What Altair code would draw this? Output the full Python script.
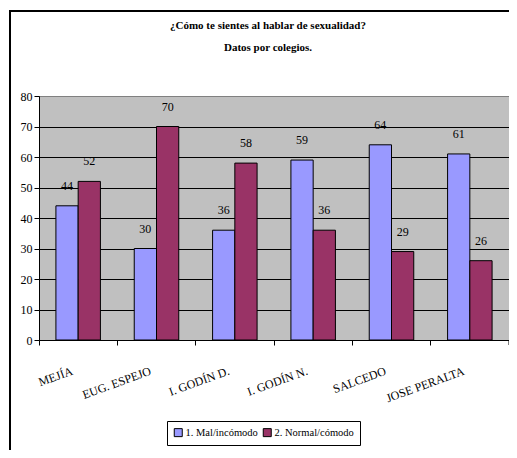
import altair as alt
import pandas as pd

categories = ["MEJÍA", "EUG. ESPEJO", "I. GODÍN D.", "I. GODÍN N.", "SALCEDO", "JOSE PERALTA"]
series_names = ["1. Mal/incómodo", "2. Normal/cómodo"]
mal = [44, 30, 36, 59, 64, 61]
normal = [52, 70, 58, 36, 29, 26]
y_ticks = [0, 10, 20, 30, 40, 50, 60, 70, 80]
colors = ["#9999FF", "#993366"]
title_lines = ["¿Cómo te sientes al hablar de sexualidad?", "Datos por colegios."]

rows = []
for c, a, b in zip(categories, mal, normal):
    rows.append({"colegio": c, "serie": series_names[0], "valor": a})
    rows.append({"colegio": c, "serie": series_names[1], "valor": b})
df = pd.DataFrame(rows)

W, H = 470, 244
FONT = "Liberation Serif"

x_enc = alt.X(
    "colegio:N", sort=categories,
    scale=alt.Scale(paddingInner=0, paddingOuter=0),
    axis=alt.Axis(title=None, bandPosition=0, labelAngle=-20, labelAlign="right",
                  labelBaseline="middle", labelOffset=-6, labelPadding=25,
                  tickSize=5, tickColor="black", domainColor="black", grid=False,
                  labelFont=FONT, labelFontSize=12, labelColor="black"),
)
xoff_enc = alt.XOffset("serie:N", sort=series_names,
                       scale=alt.Scale(paddingInner=0, paddingOuter=0.76))
y_enc = alt.Y(
    "valor:Q", scale=alt.Scale(domain=[0, 80], nice=False),
    axis=alt.Axis(title=None, values=y_ticks, tickSize=5, tickColor="black",
                  domainColor="black", grid=True,
                  gridColor={"condition": {"test": "datum.value === 80", "value": "#808080"}, "value": "black"},
                  gridWidth=1, labelFont=FONT, labelFontSize=12, labelColor="black",
                  labelPadding=2),
)

base = alt.Chart(df)

bars = base.mark_bar(stroke="black", strokeWidth=1).encode(
    x=x_enc, xOffset=xoff_enc, y=y_enc,
    color=alt.Color("serie:N", sort=series_names,
                    scale=alt.Scale(domain=series_names, range=colors),
                    legend=alt.Legend(orient="none", legendX=128, legendY=325,
                                      direction="horizontal", title=None,
                                      strokeColor="black", padding=6,
                                      symbolType="square", symbolSize=64,
                                      symbolStrokeColor="black", symbolStrokeWidth=1,
                                      labelFont=FONT, labelFontSize=10.5, labelColor="black",
                                      columnPadding=3, labelOffset=2)),
)

labels = base.mark_text(dy=-20, font=FONT, fontSize=12, color="black").encode(
    x=x_enc, xOffset=xoff_enc, y=y_enc, text="valor:Q",
)

title1 = alt.Chart(pd.DataFrame({"t": [title_lines[0]]})).mark_text(
    font=FONT, fontSize=11, fontWeight="bold", color="black", baseline="middle", align="center"
).encode(x=alt.value(229), y=alt.value(-70), text="t:N")
title2 = alt.Chart(pd.DataFrame({"t": [title_lines[1]]})).mark_text(
    font=FONT, fontSize=11, fontWeight="bold", color="black", baseline="middle", align="center"
).encode(x=alt.value(229), y=alt.value(-48), text="t:N")

one = pd.DataFrame({"a": [0]})
end_tick = alt.Chart(one).mark_rule(color="black", strokeWidth=1).encode(
    x=alt.value(W), y=alt.value(H), y2=alt.value(H + 5))
frame = alt.Chart(one).mark_rect(fill="transparent", stroke="black", strokeWidth=2).encode(
    x=alt.value(-29), x2=alt.value(W + 20), y=alt.value(-85), y2=alt.value(H + 140))

chart = alt.layer(bars, labels, title1, title2, end_tick, frame).properties(
    width=W, height=H,
    view=alt.ViewBackground(fill="#C0C0C0", stroke="#808080", strokeWidth=1),
    autosize=alt.AutoSizeParams(type="none"),
    padding={"left": 31, "top": 88, "right": 0, "bottom": 110},
    background="white",
)

chart.save("out.html", embed_options={"renderer": "svg", "actions": False})
